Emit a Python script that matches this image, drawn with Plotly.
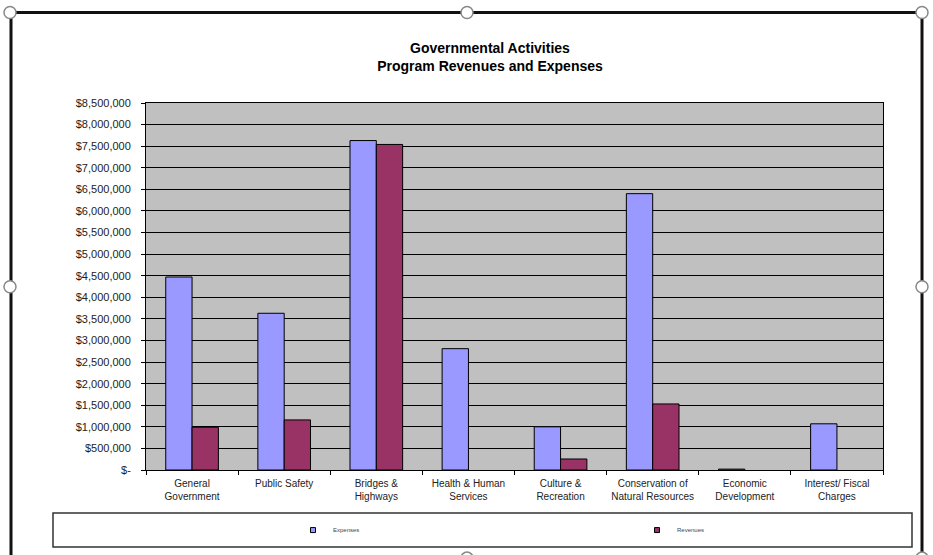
import plotly.graph_objects as go

categories = ["General<br>Government", "Public Safety", "Bridges &<br>Highways",
              "Health & Human<br>Services", "Culture &<br>Recreation",
              "Conservation of<br>Natural Resources", "Economic<br>Development",
              "Interest/ Fiscal<br>Charges"]
expenses = [4470000, 3630000, 7630000, 2810000, 1000000, 6400000, 20000, 1070000]
revenues = [990000, 1160000, 7540000, None, 255000, 1530000, None, None]
tick_vals = [i * 500000 for i in range(18)]
tick_text = ["$-"] + ["${:,.0f}".format(v) for v in tick_vals[1:]]

W, H = 933, 555
L, R, T, B = 146, 883, 103.4, 470.0

def px(x):
    return (x - L) / (R - L)

def py(y):
    return (B - y) / (B - T)

EXP_C, REV_C = "#9999FF", "#993366"

fig = go.Figure()
fig.add_trace(go.Bar(name="Expenses", x=categories, y=expenses, showlegend=False,
                     marker=dict(color=EXP_C, line=dict(color="#000000", width=1))))
fig.add_trace(go.Bar(name="Revenues", x=categories, y=revenues, showlegend=False,
                     marker=dict(color=REV_C, line=dict(color="#000000", width=1))))
# legend entries with small square keys
fig.add_trace(go.Scatter(name="Expenses", x=[None], y=[None], mode="markers",
                         marker=dict(symbol="square", size=5, color=EXP_C,
                                     line=dict(color="#000000", width=1))))
fig.add_trace(go.Scatter(name="Revenues", x=[None], y=[None], mode="markers",
                         marker=dict(symbol="square", size=5, color=REV_C,
                                     line=dict(color="#000000", width=1))))

font = "Liberation Sans, Arial, sans-serif"
shapes = []
# legend box
shapes.append(dict(type="rect", xref="paper", yref="paper", x0=px(53), x1=px(912),
                   y0=py(547), y1=py(513), line=dict(color="#333333", width=1.5)))
# outer frame
shapes.append(dict(type="line", xref="paper", yref="paper", x0=px(10), x1=px(922),
                   y0=py(13), y1=py(13), line=dict(color="#111111", width=3)))
shapes.append(dict(type="line", xref="paper", yref="paper", x0=px(11), x1=px(11),
                   y0=py(13), y1=py(560), line=dict(color="#111111", width=3)))
shapes.append(dict(type="line", xref="paper", yref="paper", x0=px(922), x1=px(922),
                   y0=py(13), y1=py(560), line=dict(color="#111111", width=3)))
# selection handles
for (hx, hy) in [(10, 13), (467, 13), (922, 13), (10, 287), (922, 287), (467, 558), (922, 558)]:
    r = 6
    shapes.append(dict(type="circle", xref="paper", yref="paper",
                       x0=px(hx - r), x1=px(hx + r), y0=py(hy + r), y1=py(hy - r),
                       fillcolor="#FFFFFF", line=dict(color="#888888", width=1.5)))

fig.update_layout(
    width=W, height=H,
    margin=dict(l=L, r=W - R, t=T, b=H - B, autoexpand=False),
    paper_bgcolor="#FFFFFF", plot_bgcolor="#C0C0C0",
    barmode="group", bargap=0.4286, bargroupgap=0,
    font=dict(family=font, color="#222222", size=10),
    title=dict(text="<b>Governmental Activities<br>Program Revenues and Expenses</b>",
               x=490 / W, xanchor="center", y=1 - 52.5 / H, yanchor="middle",
               font=dict(family=font, size=14, color="#000000")),
    xaxis=dict(showgrid=False, ticks="outside", tickson="boundaries", ticklen=4,
               tickcolor="#000000", showline=True, linecolor="#000000", linewidth=1,
               mirror=True, ticklabelstandoff=4, tickfont=dict(size=10, color="#222222")),
    yaxis=dict(range=[0, 8500000], tickvals=tick_vals, ticktext=tick_text,
               showgrid=True, gridcolor="#000000", gridwidth=1,
               ticks="outside", ticklen=4, tickcolor="#000000",
               showline=True, linecolor="#000000", linewidth=1, mirror=True,
               zeroline=False, ticklabelstandoff=8, tickfont=dict(size=11, color="#222222")),
    legend=dict(orientation="h", x=px(293), xanchor="left", y=py(530), yanchor="middle",
                entrywidth=299, entrywidthmode="pixels", font=dict(size=6, color="#444444"),
                bgcolor="rgba(0,0,0,0)", itemwidth=30),
    shapes=shapes,
)

fig.write_html("out.html")
